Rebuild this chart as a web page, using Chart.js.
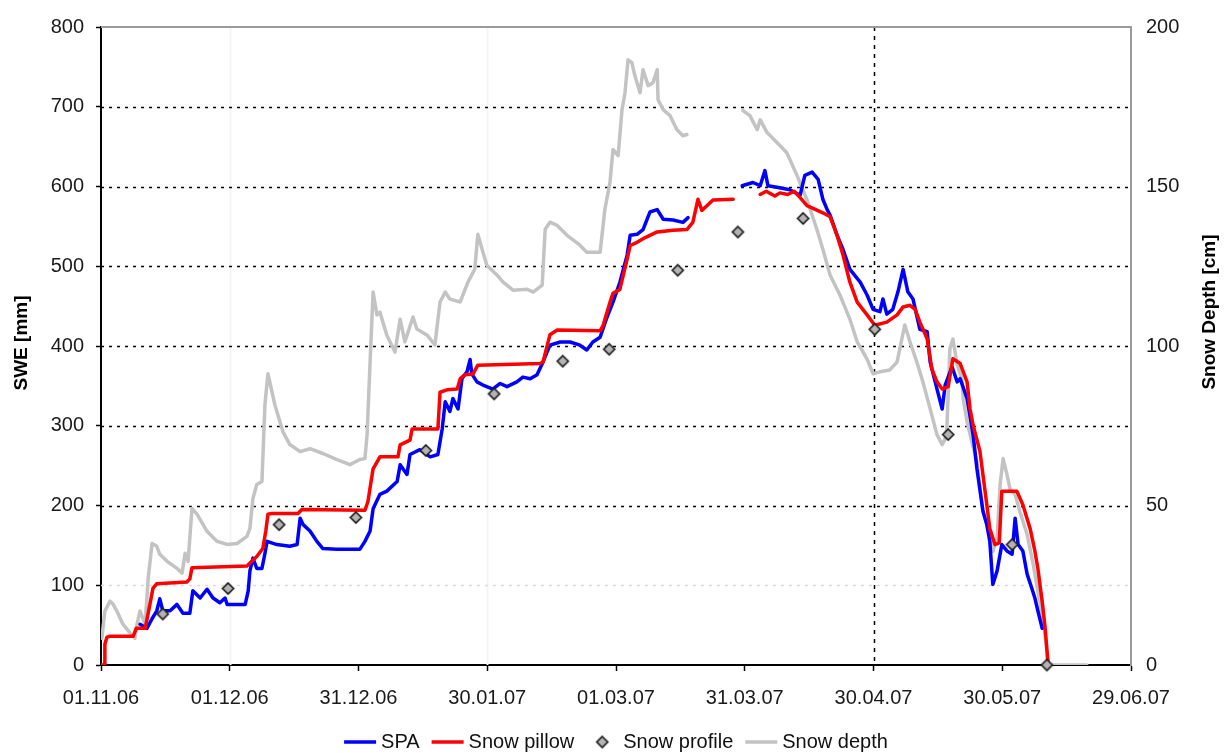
<!DOCTYPE html>
<html>
<head>
<meta charset="utf-8">
<title>SWE and snow depth 2006/07</title>
<script src="https://cdn.jsdelivr.net/npm/chart.js@4.4.1/dist/chart.umd.min.js"></script>
<style>
  html, body { margin: 0; padding: 0; background: #ffffff; }
  #wrap { width: 1226px; height: 753px; }
</style>
</head>
<body>
<div id="wrap"><canvas id="swe" width="1226" height="753"></canvas></div>
<script>
// Days since 01.11.06; x tick labels every 30 days
const tickLabels = ['01.11.06', '01.12.06', '31.12.06', '30.01.07', '01.03.07', '31.03.07', '30.04.07', '30.05.07', '29.06.07'];

// SPA (SWE, mm)
const spaDay = [9.1, 10.7, 11.9, 13.0, 13.7, 14.4, 16.1, 17.7, 19.1, 20.7, 21.4, 23.1, 24.7, 26.1, 27.7, 28.9, 29.4, 33.6, 34.3, 34.7, 35.4, 36.3, 37.5, 38.2, 38.7, 41.0, 44.0, 45.7, 46.4, 47.1, 48.7, 50.3, 51.7, 55.0, 60.3, 61.5, 62.7, 63.4, 65.0, 66.6, 69.0, 69.7, 71.3, 72.0, 74.3, 76.7, 78.5, 79.5, 80.2, 81.3, 82.0, 83.2, 84.1, 85.3, 86.0, 86.4, 87.6, 89.0, 91.3, 93.0, 94.6, 96.9, 98.3, 100.0, 101.6, 103.0, 104.6, 107.0, 109.3, 111.6, 113.2, 114.6, 116.3, 117.9, 119.3, 120.9, 122.6, 123.3, 124.9, 126.3, 127.9, 129.6, 131.0, 133.3, 135.6, 136.8, 143.0, 149.4, 151.9, 153.6, 154.7, 155.4, 157.5, 160.5, 162.9, 164.0, 165.7, 167.1, 168.2, 169.2, 169.9, 171.5, 172.9, 174.5, 176.9, 178.5, 179.9, 181.5, 182.2, 183.1, 184.5, 185.7, 186.9, 188.0, 189.2, 190.8, 192.5, 193.2, 194.8, 196.0, 196.7, 198.3, 199.5, 200.2, 201.8, 203.2, 204.1, 205.5, 206.4, 207.1, 207.8, 208.8, 209.9, 211.1, 212.3, 213.0, 213.7, 214.8, 215.8, 216.9, 217.6, 218.3, 219.3];
const spaSwe = [51, 46, 58, 68, 83, 68, 68, 76, 65, 65, 93, 84, 95, 84, 78, 84, 76, 76, 93, 118, 134, 121, 121, 140, 155, 151, 149, 151, 184, 176, 168, 155, 146, 145, 145, 155, 168, 196, 214, 218, 230, 251, 239, 264, 270, 261, 264, 296, 330, 318, 334, 321, 359, 368, 383, 365, 355, 351, 346, 353, 349, 355, 361, 359, 364, 380, 401, 405, 405, 401, 395, 405, 411, 436, 455, 480, 514, 539, 540, 546, 568, 571, 559, 558, 555, 561, null, 601, 605, 601, 620, 601, 599, 596, 589, 614, 618, 609, 584, 571, 564, 539, 521, 496, 480, 464, 446, 443, 459, 440, 446, 468, 496, 468, 459, 421, 418, 380, 346, 321, 351, 374, 355, 359, 334, 289, 246, 193, 176, 155, 101, 118, 151, 143, 139, 184, 151, 143, 114, 96, 84, 68, 46];

// Snow pillow (SWE, mm)
const pillowDay = [0, 0.7, 0.9, 1.4, 2.1, 7.5, 8.2, 10.3, 11.4, 12.1, 13.0, 20.0, 20.7, 21.2, 34.0, 34.7, 36.3, 37.7, 38.4, 38.9, 39.8, 45.9, 46.8, 61.5, 62.2, 63.4, 65.0, 69.2, 69.7, 72.0, 72.5, 78.5, 79.0, 80.6, 83.0, 83.7, 84.8, 86.7, 87.8, 102.3, 103.0, 104.6, 106.3, 116.3, 117.0, 118.6, 119.3, 120.9, 122.6, 123.3, 124.9, 126.8, 129.6, 133.3, 136.5, 137.9, 139.1, 140.0, 142.6, 147.3, 150.0, 153.6, 155.0, 157.0, 158.2, 160.0, 161.5, 162.9, 164.5, 168.2, 169.9, 171.5, 172.9, 174.5, 176.2, 178.5, 180.3, 183.1, 185.5, 186.9, 188.5, 189.7, 190.8, 192.5, 193.6, 194.8, 196.0, 197.4, 198.5, 200.2, 201.8, 202.5, 203.2, 204.8, 206.4, 207.1, 208.3, 209.3, 209.9, 213.4, 214.8, 216.5, 217.6, 218.3, 219.3, 220.0, 220.7];
const pillowSwe = [0, 0, 26, 35, 36, 36, 46, 46, 76, 96, 102, 104, 108, 122, 124, 128, 136, 146, 168, 189, 190, 190, 195, 194, 205, 246, 261, 261, 276, 282, 296, 296, 342, 345, 346, 359, 364, 365, 376, 378, 380, 414, 420, 419, 426, 455, 466, 471, 509, 526, 530, 536, 543, 545, 546, 555, 584, 570, 583, 584, null, 590, 594, 588, 592, 590, 594, 586, 576, 567, 562, 539, 514, 480, 455, 439, 426, 430, 439, 449, 451, 446, 430, 409, 371, 355, 346, 349, 384, 378, 355, 321, 301, 268, 201, 171, 151, 153, 218, 218, 201, 171, 143, 121, 80, 46, 0];

// Snow profile (SWE, mm)
const profileDay = [14.4, 29.6, 41.5, 59.4, 75.7, 91.6, 107.6, 118.4, 134.4, 148.4, 163.6, 180.3, 197.4, 212.3, 220.4];
const profileSwe = [64, 96, 176, 185, 269, 340, 381, 396, 495, 543, 560, 421, 289, 151, 0];

// Snow depth (cm, right axis)
const depthDay = [0.2, 0.9, 2.1, 2.8, 3.7, 5.1, 6.8, 7.9, 8.4, 9.1, 10.3, 11.0, 11.9, 13.0, 13.7, 15.4, 17.7, 18.9, 19.6, 20.3, 21.2, 22.4, 24.7, 27.0, 29.4, 31.7, 34.0, 34.7, 35.4, 36.3, 37.5, 38.2, 38.9, 40.5, 42.4, 44.0, 46.4, 48.7, 51.7, 55.0, 58.0, 60.3, 61.5, 62.0, 62.7, 63.4, 64.3, 65.0, 66.6, 68.5, 69.7, 70.8, 72.7, 73.6, 76.0, 77.8, 79.0, 80.2, 81.3, 83.7, 85.5, 87.1, 87.8, 88.8, 89.9, 92.3, 93.7, 96.0, 99.3, 100.7, 102.8, 103.5, 104.6, 106.3, 108.6, 111.6, 113.2, 116.3, 117.4, 118.6, 119.3, 120.5, 121.4, 122.1, 122.8, 123.7, 124.4, 125.6, 126.3, 127.5, 128.6, 129.6, 129.8, 131.0, 132.6, 134.2, 135.6, 136.5, 143.0, 149.6, 151.2, 152.9, 153.6, 155.2, 157.5, 159.8, 162.2, 164.5, 166.8, 168.2, 169.9, 172.2, 174.5, 176.2, 178.5, 179.9, 181.5, 183.8, 185.5, 186.6, 187.3, 188.5, 190.1, 191.5, 193.2, 194.8, 196.0, 196.7, 197.1, 197.8, 198.5, 199.5, 200.6, 200.9, 201.8, 202.9, 204.1, 205.5, 207.1, 207.8, 208.8, 209.5, 210.2, 211.1, 211.8, 213.0, 214.1, 215.8, 217.2, 218.3, 219.5, 220.4, 220.7, 229.7];
const depthCm = [8.4, 16.9, 20.0, 19.1, 16.9, 12.8, 10.0, 8.4, 12.8, 16.9, 12.8, 27.2, 38.1, 37.2, 34.7, 32.5, 30.3, 28.8, 35.0, 32.5, 49.1, 47.2, 41.9, 38.8, 37.8, 38.1, 40.3, 42.8, 52.2, 56.6, 57.5, 81.6, 91.3, 81.6, 73.1, 69.1, 66.9, 67.8, 66.3, 64.4, 62.8, 64.4, 64.7, 72.2, 95.0, 116.9, 109.7, 110.6, 103.4, 98.1, 108.4, 101.3, 109.1, 105.3, 103.4, 100.3, 113.8, 116.9, 114.7, 113.8, 120.0, 124.1, 135.0, 130.3, 125.3, 122.2, 120.0, 117.5, 117.8, 116.9, 119.1, 136.6, 138.8, 137.8, 134.7, 131.6, 129.4, 129.4, 142.8, 151.3, 161.6, 159.7, 174.1, 179.4, 189.7, 188.8, 184.7, 179.4, 186.6, 181.6, 182.5, 186.6, 177.2, 174.1, 172.2, 167.8, 165.9, 166.3, null, 173.8, 172.2, 167.8, 170.9, 166.9, 163.8, 160.6, 153.4, 145.9, 136.6, 130.3, 122.2, 115.9, 108.4, 101.3, 95.9, 91.3, 91.9, 92.5, 95.0, 102.2, 106.6, 101.3, 95.0, 88.8, 80.3, 72.2, 69.1, 70.9, 74.1, 99.1, 102.2, 94.1, 89.7, 83.4, 76.3, 70.0, 63.8, 48.1, 40.9, 35.6, 39.7, 56.6, 64.7, 59.7, 55.3, 53.4, 48.1, 40.9, 31.6, 23.1, 14.7, 4.4, 0, 0];

const FONT = "'Liberation Sans', Arial, sans-serif";
const toPoints = (xs, ys) => xs.map((x, i) => ({ x: x, y: ys[i] }));

// Grey diamond with dark outline for the snow-profile samples
function diamondImage(r) {
  const c = document.createElement('canvas');
  const s = Math.ceil(2 * r + 4);
  c.width = s; c.height = s;
  const g = c.getContext('2d');
  const m = s / 2;
  g.beginPath();
  g.moveTo(m, m - r); g.lineTo(m + r, m); g.lineTo(m, m + r); g.lineTo(m - r, m); g.closePath();
  g.fillStyle = '#b4b4b4'; g.fill();
  g.lineWidth = 1.7; g.strokeStyle = '#1e1e1e'; g.stroke();
  return c;
}
const diamond = diamondImage(5.5);

// Dotted grid, top frame and the dashed 30.04.07 marker under the data
const gridPlugin = {
  id: 'gridPlugin',
  beforeDatasetsDraw(chart) {
    const { ctx, chartArea: a, scales } = chart;
    const y = scales.y, x = scales.x;
    ctx.save();
    // faint verticals
    ctx.strokeStyle = '#f5f5f5'; ctx.lineWidth = 2; ctx.setLineDash([]);
    [30, 90].forEach(d => {
      const px = Math.round(x.getPixelForValue(d)) + 0.5;
      ctx.beginPath(); ctx.moveTo(px, a.top); ctx.lineTo(px, a.bottom); ctx.stroke();
    });
    // horizontals
    y.ticks.forEach(t => {
      if (t.value <= 0 || t.value >= 800) return;
      const py = Math.round(y.getPixelForValue(t.value)) + 0.5;
      ctx.strokeStyle = t.value === 100 ? '#dcdcdc' : '#000000';
      ctx.lineWidth = 1.5;
      ctx.setLineDash([3, 5]);
      ctx.beginPath(); ctx.moveTo(a.left, py); ctx.lineTo(a.right, py); ctx.stroke();
    });
    // dashed vertical at 30.04.07
    const vx = Math.round(x.getPixelForValue(180)) + 0.5;
    ctx.strokeStyle = '#000000'; ctx.lineWidth = 1.5; ctx.setLineDash([4, 5]);
    ctx.beginPath(); ctx.moveTo(vx, a.top); ctx.lineTo(vx, a.bottom); ctx.stroke();
    // top frame
    ctx.setLineDash([]);
    ctx.strokeStyle = '#9a9a9a'; ctx.lineWidth = 2;
    ctx.beginPath(); ctx.moveTo(a.left, a.top); ctx.lineTo(a.right, a.top); ctx.stroke();
    ctx.restore();
  }
};

// Axis titles and the legend row below the x axis
const labelPlugin = {
  id: 'labelPlugin',
  afterDraw(chart) {
    const { ctx } = chart;
    ctx.save();
    ctx.fillStyle = '#000000';
    ctx.font = 'bold 19px ' + FONT;
    ctx.textAlign = 'center'; ctx.textBaseline = 'middle';
    ctx.save(); ctx.translate(22, 343); ctx.rotate(-Math.PI / 2); ctx.fillText('SWE [mm]', 0, 0); ctx.restore();
    ctx.save(); ctx.translate(1210, 312); ctx.rotate(-Math.PI / 2); ctx.fillText('Snow Depth [cm]', 0, 0); ctx.restore();

    // legend
    ctx.font = '20px ' + FONT;
    ctx.textAlign = 'left';
    const sym = 32, gap = 5, sep = 12, ly = 742;
    const items = chart.data.datasets.map(ds => ({ ds, w: sym + gap + ctx.measureText(ds.label).width }));
    const total = items.reduce((s, it) => s + it.w, 0) + sep * (items.length - 1);
    let cx = (chart.chartArea.left + chart.chartArea.right) / 2 - total / 2;
    items.forEach(it => {
      const ds = it.ds;
      if (ds.showLine === false) {
        ctx.drawImage(diamond, cx + sym / 2 - diamond.width / 2, ly - diamond.height / 2);
      } else {
        ctx.strokeStyle = ds.borderColor; ctx.lineWidth = 3.5;
        ctx.beginPath(); ctx.moveTo(cx, ly); ctx.lineTo(cx + sym, ly); ctx.stroke();
      }
      ctx.fillStyle = '#111111';
      ctx.fillText(ds.label, cx + sym + gap, ly);
      cx += it.w + sep;
    });
    ctx.restore();
  }
};

const lineBase = { pointRadius: 0, borderWidth: 3.5, tension: 0, spanGaps: false, borderJoinStyle: 'round', borderCapStyle: 'round' };

new Chart(document.getElementById('swe'), {
  type: 'line',
  data: {
    datasets: [
      Object.assign({ label: 'SPA', data: toPoints(spaDay, spaSwe), borderColor: '#0000ff', backgroundColor: '#0000ff', yAxisID: 'y', order: 2 }, lineBase),
      Object.assign({ label: 'Snow pillow', data: toPoints(pillowDay, pillowSwe), borderColor: '#ff0000', backgroundColor: '#ff0000', yAxisID: 'y', order: 1 }, lineBase),
      { label: 'Snow profile', data: toPoints(profileDay, profileSwe), showLine: false, pointStyle: diamond, pointRadius: 6, pointHoverRadius: 6, borderColor: '#1e1e1e', backgroundColor: '#b4b4b4', yAxisID: 'y', order: 0, clip: false },
      Object.assign({ label: 'Snow depth', data: toPoints(depthDay, depthCm), borderColor: '#c3c3c3', backgroundColor: '#c3c3c3', yAxisID: 'y1', order: 3 }, lineBase)
    ]
  },
  options: {
    responsive: false,
    animation: false,
    events: [],
    layout: { padding: { top: 24, left: 0, right: 0, bottom: 0 } },
    plugins: { legend: { display: false }, tooltip: { enabled: false }, title: { display: false } },
    scales: {
      x: {
        type: 'linear', min: 0, max: 240,
        ticks: {
          stepSize: 30, autoSkip: false, maxRotation: 0, minRotation: 0, padding: 15,
          font: { family: FONT, size: 20 }, color: '#1a1a1a',
          callback: v => tickLabels[Math.round(v / 30)]
        },
        grid: { drawOnChartArea: false, drawTicks: true, tickLength: 6, tickColor: '#000000', tickWidth: 1.5 },
        border: { display: true, color: '#000000', width: 2 },
        afterFit: s => { s.height = 88; }
      },
      y: {
        position: 'left', min: 0, max: 800,
        ticks: { stepSize: 100, padding: 12, font: { family: FONT, size: 20 }, color: '#1a1a1a' },
        grid: { drawOnChartArea: false, drawTicks: true, tickLength: 5, tickColor: '#000000', tickWidth: 1.5 },
        border: { display: true, color: '#000000', width: 2 },
        afterFit: s => { s.width = 101; }
      },
      y1: {
        position: 'right', min: 0, max: 200,
        ticks: { stepSize: 50, padding: 15, font: { family: FONT, size: 20 }, color: '#1a1a1a' },
        grid: { drawOnChartArea: false, drawTicks: false },
        border: { display: true, color: '#9a9a9a', width: 2 },
        afterFit: s => { s.width = 95; }
      }
    }
  },
  plugins: [gridPlugin, labelPlugin]
});
</script>
</body>
</html>
